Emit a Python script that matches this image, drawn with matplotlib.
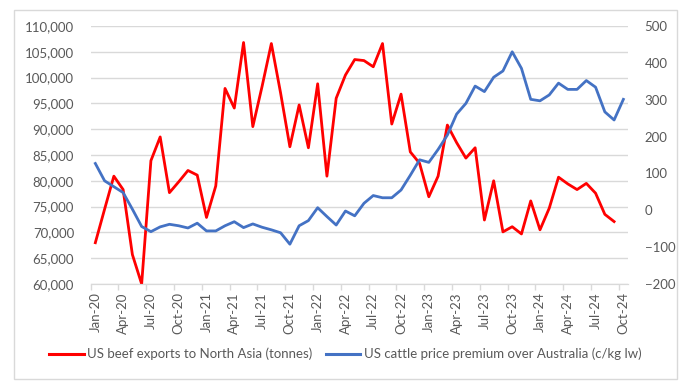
import numpy as np
import matplotlib
matplotlib.use('Agg')
import matplotlib.pyplot as plt
from matplotlib.lines import Line2D
from matplotlib.patches import Rectangle

plt.rcParams['font.family'] = ['Lato', 'DejaVu Sans']

# monthly, Jan-20 .. Oct-24
months = ['Jan', 'Feb', 'Mar', 'Apr', 'May', 'Jun', 'Jul', 'Aug', 'Sep', 'Oct', 'Nov', 'Dec']
month_labels = ['%s-%02d' % (m, y) for y in range(20, 25) for m in months][:58]

# US beef exports to North Asia (tonnes), Jan-20 .. Sep-24
beef_exports = [68000, 74500, 80900, 78300, 65700, 60000, 83900, 88500, 77700, 79800, 82000, 81100,
                72900, 79000, 97900, 94100, 106800, 90500, 98300, 106600, 97000, 86600, 94700, 86400,
                98800, 80900, 96000, 100500, 103500, 103300, 102100, 106600, 91000, 96800, 85600, 83400,
                76900, 80900, 90800, 87400, 84400, 86400, 72400, 80000, 70100, 71100, 69700, 76100,
                70500, 74700, 80700, 79400, 78300, 79500, 77600, 73500, 72100]

# US cattle price premium over Australia (c/kg lw), Jan-20 .. Oct-24
price_premium = [127, 80, 64, 48, 3, -44, -58, -45, -38, -42, -48, -35,
                 -56, -56, -42, -31, -47, -37, -46, -53, -61, -92, -42, -28,
                 7, -17, -40, -2, -15, 19, 40, 34, 34, 55, 95, 137,
                 130, 165, 204, 261, 290, 337, 322, 361, 378, 430, 385, 301,
                 297, 313, 345, 328, 328, 352, 334, 267, 245, 301]

red = '#FF0000'
blue = '#4472C4'
grey_text = '#595959'
grid_col = '#D9D9D9'

fig = plt.figure(figsize=(6.91, 3.88), dpi=100)
fig.patches.append(Rectangle((14/691, 1-379/388), 663/691, 369/388, transform=fig.transFigure,
                             fill=False, edgecolor=grid_col, lw=1))

ax = fig.add_axes([90.7/691, 1-284/388, (628-90.7)/691, (284-26)/388])
ax2 = ax.twinx()

ax.plot(np.arange(len(beef_exports)), beef_exports, color=red, lw=2.0)
ax2.plot(np.arange(len(price_premium)), price_premium, color=blue, lw=2.0)

ax.set_xlim(-0.5, 57.5)
ax.set_ylim(60000, 110000)
ax.set_yticks(np.arange(60000, 110001, 5000))
ax.set_yticklabels(['{:,}'.format(v) for v in range(60000, 110001, 5000)])
ax2.set_ylim(-200, 500)
ax2.set_yticks(np.arange(-200, 501, 100))

ax.yaxis.grid(True, color=grid_col, lw=1)
ax.set_axisbelow(True)

# labels on every third month, ticks on category boundaries
ax.set_xticks(np.arange(0, 58, 3))
ax.set_xticklabels(month_labels[::3], rotation=90)
ax.set_xticks(np.arange(-0.5, 57, 3), minor=True)
ax.tick_params(axis='x', which='major', length=0, pad=6, labelsize=9.5, labelcolor=grey_text)
ax.tick_params(axis='x', which='minor', length=4, color=grid_col, width=1)
ax.tick_params(axis='y', length=0, pad=12, labelsize=9.5, labelcolor=grey_text)
ax2.tick_params(axis='y', length=0, pad=12, labelsize=9.5, labelcolor=grey_text)

for a in (ax, ax2):
    for s in ('top', 'left', 'right'):
        a.spines[s].set_visible(False)
    a.spines['bottom'].set_color(grid_col)

handles = [Line2D([], [], color=red, lw=2.2), Line2D([], [], color=blue, lw=2.2)]
fig.legend(handles, ['US beef exports to North Asia (tonnes)',
                     'US cattle price premium over Australia (c/kg lw)'],
           loc='center', bbox_to_anchor=(0.5, 1-354/388), ncol=2, frameon=False,
           fontsize=9.5, labelcolor=grey_text, handlelength=2.6, handletextpad=0.3,
           columnspacing=1.0)

fig.savefig('out.png', dpi=100)
